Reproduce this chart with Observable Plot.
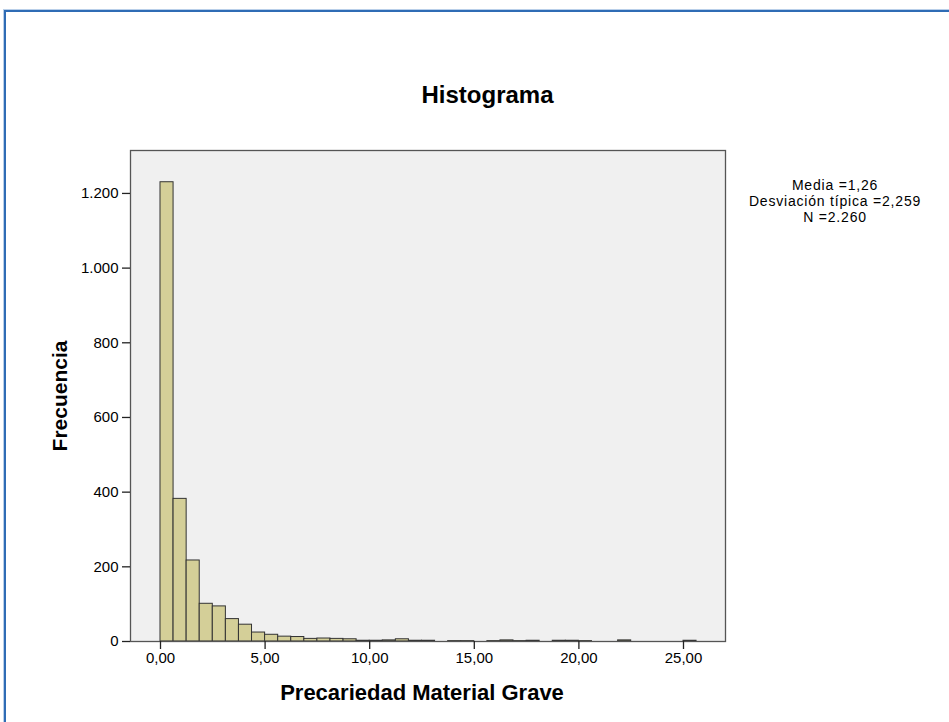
<!DOCTYPE html>
<html>
<head>
<meta charset="utf-8">
<script src="https://cdn.jsdelivr.net/npm/d3@7"></script>
<script src="https://cdn.jsdelivr.net/npm/@observablehq/plot@0.6"></script>
<style>
  html, body { margin: 0; padding: 0; background: #ffffff; }
  body { font-family: "Liberation Sans", Arial, sans-serif; }
  #wrap { position: relative; width: 949px; height: 722px; overflow: hidden; background: #fff; }
  #border { position: absolute; left: 4px; top: 10px; width: 1200px; height: 1000px;
            border-left: 2px solid #2f6cb5; border-top: 2px solid #2f6cb5;
            box-shadow: -1px -1px 0 #b9cfe9; }
  #title { position: absolute; left: 0; width: 975px; top: 81px; text-align: center;
           font-weight: bold; font-size: 24px; color: #000; }
  #stats { position: absolute; left: 735px; width: 200px; top: 177px; text-align: center;
           font-size: 14px; line-height: 16px; letter-spacing: 0.8px; color: #000; }
  #chart { position: absolute; left: 0; top: 0; }
  g[aria-label="x-axis label"] text, g[aria-label="y-axis label"] text { font-weight: bold; font-size: 21px; }
  g[aria-label="x-axis label"] text { font-size: 22px; }
</style>
</head>
<body>
<div id="wrap">
  <div id="border"></div>
  <div id="title">Histograma</div>
  <div id="chart"></div>
  <div id="stats"></div>
</div>
<script>
// Bin edges (Precariedad Material Grave) and frequencies
const binEdges = [0, 0.625, 1.25, 1.875, 2.5, 3.125, 3.75, 4.375, 5, 5.625, 6.25, 6.875, 7.5, 8.125, 8.75,
  9.375, 10, 10.625, 11.25, 11.875, 12.5, 13.125, 13.75, 14.375, 15, 15.625, 16.25, 16.875, 17.5, 18.125,
  18.75, 19.375, 20, 20.625, 21.25, 21.875, 22.5, 23.125, 23.75, 24.375, 25, 25.625];
const counts = [1230, 382, 217, 101, 94, 60, 45, 24, 18, 13, 12, 7, 8, 7, 6,
  2, 2, 3, 6, 2, 2, 0, 1, 1, 0, 1, 3, 1, 2, 0,
  2, 2, 1, 0, 0, 3, 0, 0, 0, 0, 2];
const xTicks = [0, 5, 10, 15, 20, 25];
const yTicks = [0, 200, 400, 600, 800, 1000, 1200];
const statsLines = ["Media =1,26", "Desviación típica =2,259", "N =2.260"];
const titleText = "Histograma";
const xLabel = "Precariedad Material Grave";
const yLabel = "Frecuencia";

const locale = d3.formatLocale({decimal: ",", thousands: ".", grouping: [3], currency: ["", "€"]});
const fmtX = locale.format(",.2f");
const fmtY = locale.format(",d");

const rows = counts.map((c, i) => ({x1: binEdges[i], x2: binEdges[i + 1], count: c})).filter(d => d.count > 0);

document.getElementById("title").textContent = titleText;
document.getElementById("stats").innerHTML = statsLines.map(s => `<div>${s}</div>`).join("");

const chart = Plot.plot({
  width: 949,
  height: 722,
  marginLeft: 130,
  marginRight: 224,
  marginTop: 150,
  marginBottom: 81,
  style: {fontFamily: "'Liberation Sans', Arial, sans-serif", fontSize: "15px", color: "#000", background: "transparent", overflow: "visible"},
  x: {domain: [-1.434, 27.008]},
  y: {domain: [0, 1315]},
  marks: [
    Plot.frame({fill: "#f0f0f0", stroke: null}),
    Plot.rectY(rows, {x1: "x1", x2: "x2", y: "count", fill: "#d4cf98", stroke: "#333333", strokeWidth: 1}),
    Plot.frame({stroke: "#555555", strokeWidth: 1.3}),
    Plot.axisX({ticks: xTicks, tickFormat: fmtX, tickSize: 8, tickPadding: 3, stroke: "#222", strokeWidth: 1.3,
      label: xLabel, labelAnchor: "center", labelOffset: 58, labelArrow: "none"}),
    Plot.axisY({ticks: yTicks, tickFormat: fmtY, tickSize: 8, tickPadding: 4, stroke: "#222", strokeWidth: 1.3,
      label: yLabel, labelAnchor: "center", labelOffset: 78, labelArrow: "none"})
  ]
});
// shift the x-axis title slightly left, as in the reference
const xl = chart.querySelector('g[aria-label="x-axis label"]');
if (xl) xl.setAttribute("transform", `translate(-6,0) ${xl.getAttribute("transform") || ""}`);
document.getElementById("chart").appendChild(chart);
</script>
</body>
</html>
